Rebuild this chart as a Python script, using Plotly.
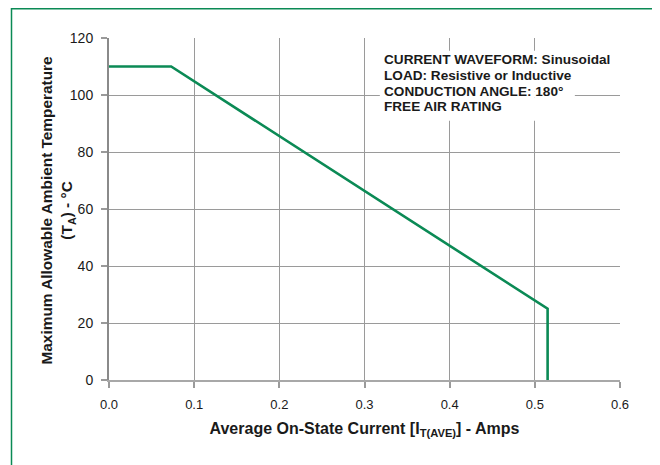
import plotly.graph_objects as go

# Data
current_amps = [0.0, 0.073, 0.515, 0.515]
ambient_temp_c = [110, 110, 25, 0]

x_ticks = [0.0, 0.1, 0.2, 0.3, 0.4, 0.5, 0.6]
x_tick_labels = ["0.0", "0.1", "0.2", "0.3", "0.4", "0.5", "0.6"]
y_ticks = [0, 20, 40, 60, 80, 100, 120]

note_lines = [
    "CURRENT WAVEFORM: Sinusoidal",
    "LOAD: Resistive or Inductive",
    "CONDUCTION ANGLE: 180°",
    "FREE AIR RATING",
]
note_y = [112.3, 106.8, 101.4, 96.0]

GREEN = "#0b8a55"
FONT = "Liberation Sans, Arial, Helvetica, sans-serif"

fig = go.Figure()
fig.add_trace(go.Scatter(
    x=current_amps, y=ambient_temp_c, mode="lines",
    line=dict(color=GREEN, width=2.6), showlegend=False, hoverinfo="skip",
))

# White masks behind the note text (hide grid lines)
masks = [
    (0.318, 0.600, 101.2, 115.5),
    (0.318, 0.547, 99.0, 101.2),
    (0.318, 0.512, 91.0, 99.0),
]
for x0, x1, y0, y1 in masks:
    fig.add_shape(type="rect", xref="x", yref="y", x0=x0, x1=x1, y0=y0, y1=y1,
                  fillcolor="white", line=dict(width=0), layer="between")

for txt, yy in zip(note_lines, note_y):
    fig.add_annotation(x=0.321, y=yy, xref="x", yref="y", text="<b>" + txt + "</b>",
                       showarrow=False, xanchor="left", yanchor="middle",
                       font=dict(family=FONT, size=13.6, color="#1a1a1a"))

# Y-axis title (two lines, rotated)
fig.add_annotation(x=-0.1008, y=0.497, xref="paper", yref="paper",
                   text="<b>Maximum Allowable Ambient Temperature<br>(T<sub>A</sub>) - °C</b>",
                   showarrow=False, textangle=-90, xanchor="center", yanchor="middle",
                   font=dict(family=FONT, size=15.4, color="#1a1a1a"))

# Green outer frame
fig.add_shape(type="rect", xref="paper", yref="paper",
              x0=-0.1908, x1=1.0699, y0=-0.35, y1=1.0855,
              line=dict(color=GREEN, width=1.5), fillcolor="rgba(0,0,0,0)", layer="above")

fig.update_layout(
    width=652, height=457,
    margin=dict(l=101, r=40, t=30, b=85),
    paper_bgcolor="white", plot_bgcolor="white",
    font=dict(family=FONT, size=13, color="#1a1a1a"),
    xaxis=dict(
        range=[0, 0.6], tickvals=x_ticks, ticktext=x_tick_labels,
        showgrid=True, gridcolor="#9a9a9a", gridwidth=1,
        showline=True, linecolor="#a8a8a8", linewidth=2, mirror=False,
        ticks="outside", ticklen=6, tickcolor="#9a9a9a", tickwidth=1.5,
        ticklabelstandoff=5,
        zeroline=False, tickfont=dict(size=13),
        title=dict(text="<b>Average On-State Current [I<sub>T(AVE)</sub>] - Amps</b>",
                   font=dict(size=16), standoff=12),
    ),
    yaxis=dict(
        range=[0, 120], tickvals=y_ticks,
        showgrid=True, gridcolor="#9a9a9a", gridwidth=1,
        showline=True, linecolor="#8a8a8a", linewidth=2,
        ticks="outside", ticklen=6, tickcolor="#9a9a9a", tickwidth=1.5,
        ticklabelstandoff=5,
        zeroline=False, tickfont=dict(size=14),
    ),
)

fig.write_html("out.html")
